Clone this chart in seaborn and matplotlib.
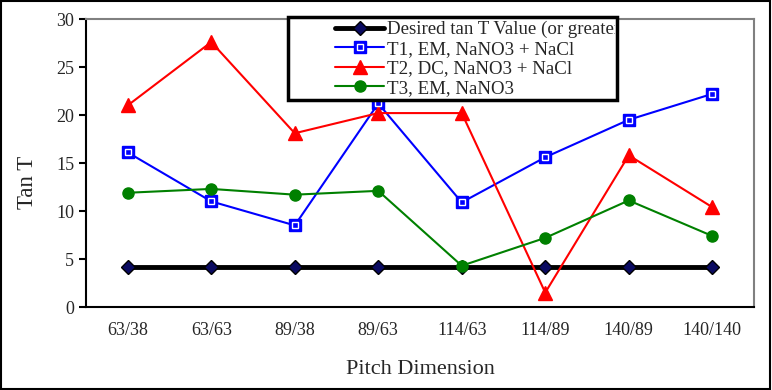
import matplotlib.pyplot as plt
import matplotlib.patches as mpatches
from matplotlib.lines import Line2D
from matplotlib.legend_handler import HandlerTuple
import seaborn as sns
import pandas as pd

pitch = ["63/38", "63/63", "89/38", "89/63", "114/63", "114/89", "140/89", "140/140"]
desired = [4.2, 4.2, 4.2, 4.2, 4.2, 4.2, 4.2, 4.2]
t1 = [16.1, 11.0, 8.5, 21.2, 10.9, 15.6, 19.5, 22.2]
t2 = [21.0, 27.6, 18.1, 20.2, 20.2, 1.5, 15.8, 10.4]
t3 = [11.9, 12.3, 11.7, 12.1, 4.3, 7.2, 11.1, 7.4]

series_names = [
    "Desired tan T Value (or greater)",
    "T1, EM, NaNO3 + NaCl",
    "T2, DC, NaNO3 + NaCl",
    "T3, EM, NaNO3",
]

sns.set_style("white")
plt.rcParams["font.family"] = ["Liberation Serif", "DejaVu Serif"]

W, H = 772, 390
fig = plt.figure(figsize=(W / 100, H / 100), dpi=100)
ax = fig.add_axes([86 / W, 1 - 307 / H, (754 - 86) / W, (307 - 19) / H])

styles = [
    dict(color="black", lw=3.5, marker="D", ms=7, mfc="#0a0a60", mec="black", mew=1),
    dict(color="blue", lw=1.5, marker="s", ms=9, mfc="blue", mec="blue"),
    dict(color="red", lw=1.5, marker="^", ms=10, mfc="red", mec="red"),
    dict(color="green", lw=1.5, marker="o", ms=8, mfc="green", mec="green"),
]

for vals, name, st in zip([desired, t1, t2, t3], series_names, styles):
    df = pd.DataFrame({"pitch": pitch, "value": vals})
    sns.lineplot(data=df, x="pitch", y="value", ax=ax, label=name,
                 linewidth=st["lw"], color=st["color"], marker=st["marker"],
                 markersize=st["ms"], markerfacecolor=st["mfc"],
                 markeredgecolor=st["mec"], markeredgewidth=st.get("mew", 1),
                 zorder=3)

# white inner outline on the T1 squares
ax.plot(pitch, t1, ls="none", marker="s", ms=5, mfc="blue", mec="white", mew=1, zorder=4)

ax.set_xlim(-0.5, len(pitch) - 0.5)
ax.set_ylim(0, 30)
ax.set_yticks(range(0, 31, 5))
ax.set_xticks(range(len(pitch)))
ax.set_xticklabels(pitch)
ax.set_xticks([i - 0.5 for i in range(len(pitch) + 1)], minor=True)
ax.tick_params(axis="x", which="major", length=0, labelsize=13, pad=11)
ax.tick_params(axis="x", which="minor", length=5, width=1.5, color="black", direction="out")
ax.tick_params(axis="y", length=5, width=1.5, color="black", direction="out", labelsize=13, left=True)

for side in ["left", "bottom"]:
    ax.spines[side].set_color("black")
    ax.spines[side].set_linewidth(1.5)
for side in ["top", "right"]:
    ax.spines[side].set_color("gray")
    ax.spines[side].set_linewidth(1.5)

ax.set_xlabel("Pitch Dimension", fontsize=16, labelpad=15)
ax.set_ylabel("Tan T", fontsize=16.5)
ax.yaxis.set_label_coords(-0.072, 0.434)

# legend box (Excel style, fixed frame)
frame = mpatches.Rectangle((288 / W, 1 - 100 / H), (617 - 288) / W, 83 / H,
                           transform=fig.transFigure, facecolor="white",
                           edgecolor="black", linewidth=2.5, zorder=5, clip_on=False)
ax.add_patch(frame)

handles, labels = ax.get_legend_handles_labels()
inner = Line2D([], [], ls="none", marker="s", ms=5, mfc="blue", mec="white", mew=1)
handles[1] = (handles[1], inner)
leg = ax.legend(handles, labels, loc="upper left", bbox_to_anchor=(335 / W, 1 - 21 / H),
                bbox_transform=fig.transFigure, fontsize=13.6, frameon=False,
                handlelength=2.6, borderpad=0, labelspacing=0.12, handletextpad=0.15,
                borderaxespad=0, handler_map={tuple: HandlerTuple(ndivide=1, pad=0)})
leg.set_zorder(6)
clip = mpatches.Rectangle((288 / W, 1 - 100 / H), (615 - 288) / W, 83 / H,
                          transform=fig.transFigure)
for t in leg.get_texts():
    t.set_clip_path(clip)

fig.patches.append(mpatches.Rectangle((0.001, 0.002), 0.997, 0.995, transform=fig.transFigure,
                                      fill=False, edgecolor="black", linewidth=1.5))

fig.savefig("out.png", dpi=100)
